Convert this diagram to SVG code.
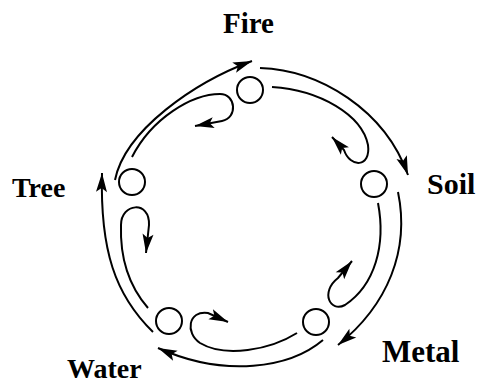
<svg xmlns="http://www.w3.org/2000/svg" width="479" height="384" viewBox="0 0 479 384">
<style>
.node{fill:#fff;stroke:#000;stroke-width:2}
.lbl{font-family:"Liberation Serif","Times New Roman",serif;font-weight:bold;fill:#000}
.c{fill:none;stroke:#000;stroke-width:2;marker-end:url(#ah)}
</style>
<defs>
<marker id="ah" markerUnits="userSpaceOnUse" markerWidth="20" markerHeight="12" refX="19" refY="5.5" orient="auto" overflow="visible">
<path d="M0,0 L19,5.5 L0,11 L4,5.5 Z" fill="#000"/>
</marker>
</defs>
<rect width="479" height="384" fill="#fff"/>
<g id="connectors">
<path class="c" d="M115,180 C125,130 195,82 252,61"/>
<path class="c" d="M132,157 C152,118 192,94 220,94 C236,94 238,118 222,121 L195,126"/>
<path class="c" d="M260,68 C320,70 385,110 408,175"/>
<path class="c" d="M272,87 C320,90 362,115 368,145 C371,168 350,168 344,150 L332,137"/>
<path class="c" d="M398,192 C410,250 388,305 338,345"/>
<path class="c" d="M378,203 C386,245 375,285 345,305 C330,313 320,292 338,278 L352,261"/>
<path class="c" d="M323,340 C290,368 225,378 158,348"/>
<path class="c" d="M297,333 C270,350 225,358 200,343 C185,333 188,310 208,313 L228,322"/>
<path class="c" d="M153,332 C115,295 100,250 102,173"/>
<path class="c" d="M148,308 C128,285 120,255 121,225 C121,203 150,200 149,225 L146,253"/>
</g>
<g id="fire"><circle class="node" cx="250" cy="90" r="13"/><text class="lbl" x="223" y="33" font-size="29">Fire</text></g>
<g id="soil"><circle class="node" cx="374" cy="184" r="13"/><text class="lbl" x="427" y="194" font-size="30">Soil</text></g>
<g id="metal"><circle class="node" cx="316" cy="322" r="13"/><text class="lbl" x="382" y="362" font-size="31">Metal</text></g>
<g id="water"><circle class="node" cx="169" cy="321" r="13"/><text class="lbl" x="67" y="378" font-size="28">Water</text></g>
<g id="tree"><circle class="node" cx="132" cy="182" r="13"/><text class="lbl" x="12" y="197" font-size="28">Tree</text></g>
</svg>
